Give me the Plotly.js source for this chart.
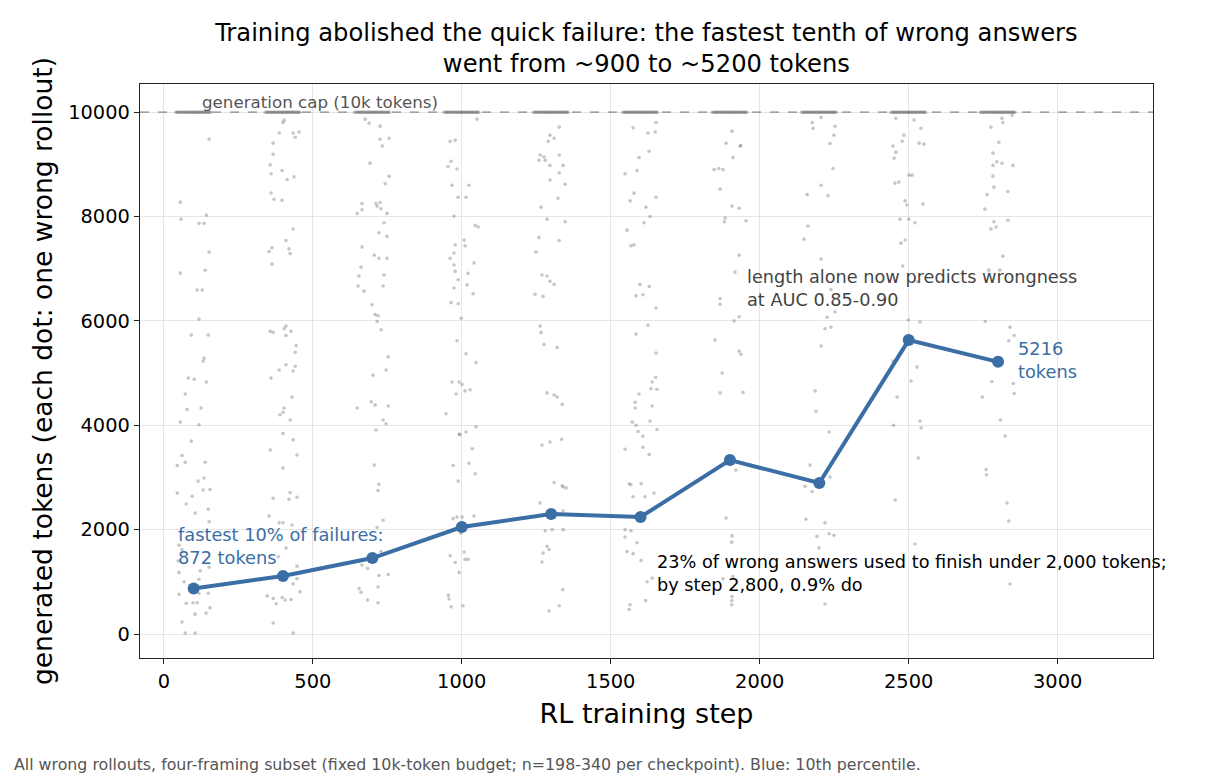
<!DOCTYPE html>
<html>
<head>
<meta charset="utf-8">
<script src="https://cdn.plot.ly/plotly-3.0.1.min.js"></script>
<style>
  body { margin: 0; background: #fff; }
  #plot { width: 1230px; height: 780px; }
</style>
</head>
<body>
<div id="plot"></div>
<script>
// checkpoints and the 10th percentile of wrong-answer length
const steps = [100, 400, 700, 1000, 1300, 1600, 1900, 2200, 2500, 2800];
const p10Tokens = [872, 1110, 1456, 2050, 2299, 2241, 3333, 2893, 5632, 5216];
const capTokens = 10000;

// jitter of the rollouts that hit the cap (same spread at every checkpoint)
const capJitter = [-60, -55, -51, -49, -44, -41, -38, -33, -30, -27, -22, -19, -16, -12, -9, -5, -2,
  1, 4, 8, 11, 15, 17, 22, 25, 29, 32, 36, 39, 43, 47, 50, 53, 57];

// wrong rollouts under the cap: [jitter in steps, tokens]
const dots100 = [[52,9483],[-45,8276],[-42,7950],[18,7870],[35,7870],[43,8027],[52,7318],[-45,6916],
  [39,6970],[12,6590],[29,6590],[18,6034],[-8,5728],[49,5728],[35,5287],[32,5230],[-18,4904],[2,4880],
  [43,4830],[-28,4598],[25,4330],[-22,4300],[-45,4061],[18,4010],[-8,3697],[-39,3420],[-55,3230],
  [-28,3290],[39,3290],[15,2930],[35,2990],[-55,2700],[-5,2640],[32,2760],[55,2770],[-25,2490],
  [49,2390],[5,2320],[52,2150],[-49,1700],[-39,1620],[-52,1400],[22,1210],[-49,1180],[52,1280],
  [-32,1000],[18,1050],[-49,760],[49,780],[18,780],[-25,590],[-2,600],[12,600],[55,500],[5,380],
  [42,400],[-39,230],[-28,20],[5,20]];
const dots400 = [[4,9847],[0,9800],[-13,9600],[34,9600],[54,9620],[41,9520],[-33,9406],[-33,9195],
  [-43,8990],[-40,8820],[-3,8880],[14,8710],[37,8760],[-40,8450],[-30,8330],[-3,8310],[34,7760],
  [10,7540],[-37,7400],[-47,7330],[20,7380],[24,7290],[-37,7088],[-43,5800],[-33,5780],[4,5850],
  [10,5900],[27,5800],[10,5720],[44,5530],[41,5400],[-13,5060],[10,5160],[41,5130],[34,5040],
  [-40,4904],[30,4540],[4,4330],[0,4250],[-10,4200],[24,4100],[0,3840],[34,3720],[-43,3525],
  [47,3429],[0,3180],[24,2710],[-33,2600],[20,2580],[47,2620],[-47,2260],[-13,2130],[0,2130],
  [30,2090],[-16,1480],[10,1650],[47,1300],[47,1060],[34,960],[-3,1100],[57,810],[-53,730],
  [-33,680],[-23,580],[-3,700],[7,650],[27,660],[-33,210],[34,19]];
const dots700 = [[-24,9866],[-11,9790],[26,9732],[26,9480],[56,9500],[33,9350],[-8,9023],[56,8770],
  [43,8630],[-35,8250],[-35,8130],[-51,8060],[12,8250],[26,8270],[16,8200],[29,8150],[49,8060],
  [39,7880],[22,7690],[49,7620],[-35,7414],[6,7260],[22,7200],[49,7200],[-38,7030],[-45,6860],
  [39,6880],[-48,6670],[-28,6570],[36,6670],[-1,6310],[9,6120],[19,6100],[16,5990],[29,5830],
  [53,5310],[46,5060],[2,4960],[-4,4450],[9,4390],[53,4370],[-51,4330],[36,4100],[46,4030],
  [12,3910],[6,3240],[22,2870],[19,2750],[36,2180],[16,2040],[29,1580],[2,1520],[-35,1320],
  [-16,1260],[22,1120],[53,1140],[-45,870],[-38,800],[-16,650],[19,600],[19,900]];
const dots1000 = [[51,9866],[-39,9440],[-22,9460],[-46,8960],[-36,9060],[-16,8910],[-33,8600],
  [24,8600],[-12,8370],[14,8370],[-26,8008],[45,7830],[55,7800],[8,7550],[11,7440],[-22,7460],
  [-26,7300],[-39,7200],[-26,7070],[-22,6950],[-12,6790],[21,6910],[41,7110],[-26,6630],[18,6690],
  [38,6520],[-36,6350],[-12,6330],[-2,6050],[-16,5620],[14,5370],[48,5200],[-33,4830],[-9,4830],
  [1,4780],[-19,4600],[11,4660],[28,4680],[-53,4220],[48,3970],[14,3870],[-9,3830],[-6,3820],
  [35,3550],[-29,3230],[24,3270],[45,3070],[-12,2930],[41,2260],[-16,2240],[1,2240],[-29,2210],
  [-3,1930],[-39,1500],[-22,1370],[8,1570],[11,1430],[21,1430],[-9,1180],[-45,740],[-43,670],
  [-36,520],[4,540]];
const dots1300 = [[27,9713],[-4,9560],[10,9500],[-10,9440],[-37,9180],[27,9180],[-41,9080],[-20,9080],
  [-24,9140],[-4,8980],[40,8980],[27,8840],[-4,8700],[47,8620],[23,8350],[-34,8180],[-14,7950],
  [47,7900],[-41,7600],[27,7540],[-51,7318],[-31,6880],[-14,6860],[-4,6760],[10,6700],[-54,6510],
  [-27,6470],[-37,5900],[-34,5780],[-24,5550],[20,5490],[-14,4620],[10,4580],[20,4540],[37,4400],
  [35,3730],[-4,3680],[-31,3620],[10,2900],[37,2840],[40,2820],[50,2800],[-37,2510],[40,2356],
  [-20,1980],[3,2000],[40,2000],[-7,1620],[-14,1680],[-27,1550],[-31,1380],[39,850],[27,540],
  [-7,440]];
const dots1600 = [[52,9800],[-25,9700],[25,9600],[49,9620],[29,9250],[-5,9130],[-12,8880],[-52,8820],
  [-22,8448],[-35,8300],[52,8370],[18,8180],[32,8000],[12,7880],[-45,7739],[-22,7460],[-32,7440],
  [-2,6700],[29,6660],[-15,6480],[8,6500],[52,6245],[25,5920],[-15,5747],[52,5383],[51,4920],
  [39,4830],[35,4700],[55,4690],[-5,4600],[-18,4440],[-18,4330],[-28,4060],[-15,4000],[32,4080],
  [-8,3880],[8,3790],[55,3920],[-52,3540],[8,3580],[29,3440],[39,4370],[-32,2860],[-38,2880],
  [2,2880],[-25,2630],[45,2700],[15,2630],[-52,2000],[-32,1980],[-52,1860],[-45,1580],[-25,1540],
  [-12,1750],[2,1410],[39,1070],[22,1000],[17,640],[-35,560],[-38,470]];
const dots1900 = [[7,9636],[-13,9406],[34,9350],[37,9360],[10,9130],[-53,8900],[-37,8920],[-23,8900],
  [-33,8525],[7,8200],[31,8160],[-16,7970],[-19,7900],[54,7920],[31,7260],[17,6935],[-33,6430],
  [-33,6320],[14,6000],[31,6080],[-50,5632],[31,5420],[37,5360],[-26,5000],[-33,4620],[44,4630],
  [20,3141],[-13,2222],[7,1880],[6,1760],[10,1100],[-23,1060],[7,720],[6,640],[6,560]];
const dots2200 = [[6,9900],[-24,9800],[-21,9690],[53,9730],[49,9560],[36,9400],[46,8920],[6,8600],
  [29,8400],[-41,8420],[-38,7816],[-51,7567],[6,7184],[39,6600],[9,6500],[53,6170],[26,6070],
  [19,5850],[39,5880],[6,5517],[-14,4660],[-11,4270],[33,3870],[-31,3238],[36,3008],[-48,2830],
  [-24,2730],[-45,2200],[19,2130],[-8,1870],[33,1920],[49,1890],[-1,1650],[19,575]];
const dots2500 = [[-43,9885],[18,9850],[41,9693],[-16,9560],[-22,9444],[-53,9350],[-43,9234],
  [-49,9119],[35,9406],[51,9387],[1,8793],[11,8793],[-46,8640],[-33,8660],[-12,8300],[-6,8220],
  [48,8240],[-29,7950],[0,7950],[21,7880],[-12,7550],[-26,7490],[-20,7050],[30,6750],[-1,6015],
  [38,5980],[-53,5230],[28,5115],[8,4847],[-39,4540],[38,4080],[42,3950],[-51,4000],[32,3371],
  [-45,2567],[21,1724]];
const dots2800 = [[13,9885],[16,9800],[47,9940],[-24,9713],[3,9425],[-17,9215],[-4,9050],[-17,8980],
  [13,9020],[50,8980],[-17,8774],[-14,8563],[-37,8420],[33,8480],[-44,8142],[-14,7900],[33,7930],
  [-24,7760],[-7,7800],[16,7241],[-31,6973],[6,6973],[-43,5990],[40,5880],[54,5720],[36,5620],
  [-21,4840],[51,4800],[54,4610],[-53,4540],[8,4100],[24,3793],[-40,3150],[-39,3050],[30,2510],
  [36,2165],[40,958]];
const dotsByStep = [dots100, dots400, dots700, dots1000, dots1300, dots1600, dots1900, dots2200, dots2500, dots2800];

const font = 'DejaVu Sans, Arial, sans-serif';
const blue = '#3a6ea5';

let dotX = [], dotY = [];
steps.forEach(function (s, i) {
  capJitter.forEach(function (j) { dotX.push(s + j); dotY.push(capTokens); });
  dotsByStep[i].forEach(function (d) { dotX.push(s + d[0]); dotY.push(d[1]); });
});

const dotTrace = {
  x: dotX, y: dotY, mode: 'markers', type: 'scatter', hoverinfo: 'skip',
  marker: { color: 'rgba(120,120,120,0.42)', size: 3.6, line: { width: 0 } }
};
const p10Trace = {
  x: steps, y: p10Tokens, mode: 'lines+markers', type: 'scatter',
  line: { color: blue, width: 4 },
  marker: { color: blue, size: 12 }
};

const layout = {
  width: 1230, height: 780,
  margin: { l: 140, r: 77, t: 84, b: 122 },
  paper_bgcolor: '#fff', plot_bgcolor: '#fff',
  showlegend: false,
  font: { family: font, size: 19, color: '#000' },
  title: {
    text: 'Training abolished the quick failure: the fastest tenth of wrong answers<br>went from ~900 to ~5200 tokens',
    font: { family: font, size: 24.2, color: '#000' },
    x: 0.5255, xanchor: 'center', y: 0.948, yanchor: 'top'
  },
  xaxis: {
    range: [-80, 3320], tickvals: [0, 500, 1000, 1500, 2000, 2500, 3000],
    showgrid: true, gridcolor: '#e6e6e6', gridwidth: 1, zeroline: false,
    showline: true, linecolor: '#222', linewidth: 1.3, mirror: true,
    ticks: 'outside', ticklen: 5, tickcolor: '#222',
    tickfont: { family: font, size: 19.4 },
    title: { text: 'RL training step', font: { family: font, size: 27 }, standoff: 12 }
  },
  yaxis: {
    range: [-460, 10540], tickvals: [0, 2000, 4000, 6000, 8000, 10000], tickformat: 'd',
    showgrid: true, gridcolor: '#e6e6e6', gridwidth: 1, zeroline: false,
    showline: true, linecolor: '#222', linewidth: 1.3, mirror: true,
    ticks: 'outside', ticklen: 5, tickcolor: '#222',
    tickfont: { family: font, size: 19.4 },
    title: { text: 'generated tokens (each dot: one wrong rollout)', font: { family: font, size: 26.5 }, standoff: 8 }
  },
  shapes: [{
    type: 'line', xref: 'paper', x0: 0, x1: 1, yref: 'y', y0: capTokens, y1: capTokens,
    line: { color: '#888', width: 1.2, dash: 'dash' }
  }],
  annotations: [
    { x: 120, y: capTokens, xref: 'x', yref: 'y', xanchor: 'left', yanchor: 'bottom', yshift: -2,
      text: 'generation cap (10k tokens)', showarrow: false,
      font: { family: font, size: 16.7, color: '#555' } },
    { x: 40, y: 1686, xref: 'x', yref: 'y', xanchor: 'left', yanchor: 'middle', align: 'left',
      text: 'fastest 10% of failures:<br>872 tokens', showarrow: false,
      font: { family: font, size: 17.8, color: blue } },
    { x: 2859, y: 5250, xref: 'x', yref: 'y', xanchor: 'left', yanchor: 'middle', align: 'left',
      text: '5216<br>tokens', showarrow: false,
      font: { family: font, size: 17.8, color: blue } },
    { x: 1950, y: 6630, xref: 'x', yref: 'y', xanchor: 'left', yanchor: 'middle', align: 'left',
      text: 'length alone now predicts wrongness<br>at AUC 0.85-0.90', showarrow: false,
      font: { family: font, size: 17.7, color: '#444' } },
    { x: 1648, y: 1150, xref: 'x', yref: 'y', xanchor: 'left', yanchor: 'middle', align: 'left',
      text: '23% of wrong answers used to finish under 2,000 tokens;<br>by step 2,800, 0.9% do', showarrow: false,
      font: { family: font, size: 17.7, color: '#000' } },
    { x: -0.1264, y: -0.1864, xref: 'paper', yref: 'paper', xanchor: 'left', yanchor: 'middle',
      text: 'All wrong rollouts, four-framing subset (fixed 10k-token budget; n=198-340 per checkpoint). Blue: 10th percentile.',
      showarrow: false, font: { family: font, size: 15.8, color: '#555' } }
  ]
};

document.addEventListener('DOMContentLoaded', function () {
  Plotly.newPlot('plot', [dotTrace, p10Trace], layout, { displayModeBar: false, staticPlot: true });
});
</script>
</body>
</html>
